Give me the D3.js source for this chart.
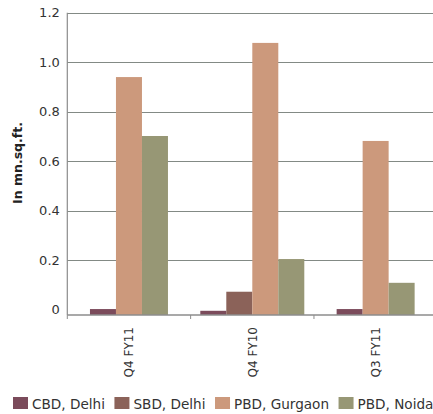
<!DOCTYPE html>
<html>
<head>
<meta charset="utf-8">
<script src="https://cdn.jsdelivr.net/npm/d3@7/dist/d3.min.js"></script>
<style>
  html, body { margin: 0; padding: 0; background: #fff; }
  svg { display: block; font-family: "DejaVu Sans", sans-serif; }
</style>
</head>
<body>
<svg id="chart" width="433" height="414"></svg>
<script>
// Office space absorption by micro-market, in million sq. ft.
const categories = ["Q4 FY11", "Q4 FY10", "Q3 FY11"];
const seriesNames = ["CBD, Delhi", "SBD, Delhi", "PBD, Gurgaon", "PBD, Noida"];
const cbdDelhi    = [0.003, -0.004, 0.003];
const sbdDelhi    = [null, 0.073, null];
const pbdGurgaon  = [0.940, 1.078, 0.682];
const pbdNoida    = [0.702, 0.205, 0.109];
const yTicks = [0, 0.2, 0.4, 0.6, 0.8, 1.0, 1.2];
const yTickLabels = ["0", "0.2", "0.4", "0.6", "0.8", "1.0", "1.2"];
const colors = ["#7b4b5b", "#8b6259", "#cc997c", "#979775"];

const seriesValues = [cbdDelhi, sbdDelhi, pbdGurgaon, pbdNoida];

const svg = d3.select("#chart");
const plotLeft = 67.3, plotRight = 437.3, plotTop = 12.7, plotBottom = 315;

const x0 = d3.scaleBand().domain(categories).range([plotLeft, plotRight]).padding(0);
const y = d3.scaleLinear().domain([-0.021, 1.2]).range([plotBottom, plotTop]);
const color = d3.scaleOrdinal().domain(seriesNames).range(colors);
const barW = 26;

// horizontal gridlines
svg.append("g")
  .selectAll("line")
  .data(yTicks.filter(d => d > 0))
  .join("line")
  .attr("x1", plotLeft).attr("x2", 433)
  .attr("y1", d => Math.round(y(d)) + 0.5).attr("y2", d => Math.round(y(d)) + 0.5)
  .attr("stroke", "#838a85").attr("stroke-width", 1.2);

// bars: each category shows only the series that have a value, centred in its band
const groups = categories.map((c, i) => ({
  cat: c,
  items: seriesNames.map((s, j) => ({ s, v: seriesValues[j][i] })).filter(d => d.v !== null)
}));

const baseY = y(y.domain()[0]);
groups.forEach(g => {
  const inner = d3.scaleBand()
    .domain(g.items.map(d => d.s))
    .range([0, barW * g.items.length]);
  const start = x0(g.cat) + x0.bandwidth() / 2 - (barW * g.items.length) / 2;
  svg.append("g")
    .selectAll("rect")
    .data(g.items)
    .join("rect")
    .attr("x", d => start + inner(d.s))
    .attr("width", inner.bandwidth())
    .attr("y", d => y(d.v))
    .attr("height", d => baseY - y(d.v))
    .attr("fill", d => color(d.s));
});

// y axis labels and line
const yAxis = d3.axisLeft(y).tickValues(yTicks)
  .tickFormat((d, i) => yTickLabels[i]).tickSize(0).tickPadding(7.5);
const gy = svg.append("g").attr("transform", `translate(${plotLeft},0)`).call(yAxis);
gy.select(".domain").remove();
gy.selectAll("text").attr("font-size", 13).attr("fill", "#333")
  .attr("font-family", "DejaVu Sans, sans-serif");

svg.append("line")
  .attr("x1", plotLeft).attr("x2", plotLeft)
  .attr("y1", plotTop).attr("y2", plotBottom)
  .attr("stroke", "#8c8c8c").attr("stroke-width", 1.2);

// x axis line with boundary ticks
svg.append("line")
  .attr("x1", plotLeft).attr("x2", 433)
  .attr("y1", plotBottom).attr("y2", plotBottom)
  .attr("stroke", "#8c8c8c").attr("stroke-width", 1.5);

svg.append("g")
  .selectAll("line")
  .data(categories)
  .join("line")
  .attr("x1", d => x0(d)).attr("x2", d => x0(d))
  .attr("y1", plotBottom).attr("y2", plotBottom + 4)
  .attr("stroke", "#8c8c8c").attr("stroke-width", 1);

// rotated category labels
svg.append("g")
  .selectAll("text")
  .data(categories)
  .join("text")
  .attr("transform", d => `translate(${x0(d) + x0.bandwidth() / 2},327) rotate(-90)`)
  .attr("text-anchor", "end")
  .attr("dy", "0.36em")
  .attr("font-size", 12)
  .attr("fill", "#333")
  .text(d => d);

// y axis title
svg.append("text")
  .attr("transform", `translate(17.5,163) rotate(-90)`)
  .attr("text-anchor", "middle")
  .attr("dy", "0.36em")
  .attr("font-size", 12.5)
  .attr("font-weight", "bold")
  .attr("fill", "#222")
  .text("In mn.sq.ft.");

// legend
const legend = svg.append("g");
let lx = 13;
seriesNames.forEach(s => {
  legend.append("rect")
    .attr("x", lx).attr("y", 397)
    .attr("width", 15).attr("height", 12)
    .attr("fill", color(s));
  const t = legend.append("text")
    .attr("x", lx + 19).attr("y", 408.5)
    .attr("font-size", 13.6)
    .attr("fill", "#333")
    .text(s);
  lx += 19 + t.node().getComputedTextLength() + 9.5;
});
</script>
</body>
</html>
